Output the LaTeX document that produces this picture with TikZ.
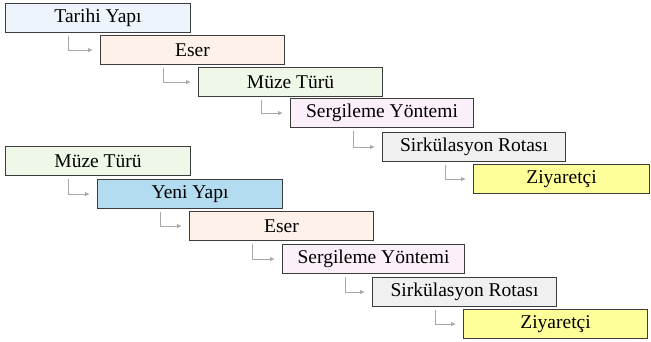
\documentclass[tikz,border=0pt]{standalone}
\usepackage{fontspec}
\setmainfont{Liberation Serif}
\usetikzlibrary{arrows.meta}
\definecolor{fHistoric}{HTML}{EEF4FC}
\definecolor{fWork}{HTML}{FDF1EA}
\definecolor{fType}{HTML}{EEF7E8}
\definecolor{fDisplay}{HTML}{FBEFFA}
\definecolor{fRoute}{HTML}{F0F0F0}
\definecolor{fVisitor}{HTML}{FFFF99}
\definecolor{fNew}{HTML}{B4DCF0}
\definecolor{edge}{HTML}{3C3C3C}
\definecolor{link}{HTML}{A8A8A8}
\tikzset{
  stage/.style={draw=edge, line width=1.1pt, anchor=north west, inner sep=0pt,
    minimum width=184pt, minimum height=29pt,
    font=\fontsize{19.5pt}{21pt}\selectfont},
  conn/.style={draw=link, line width=1pt, -{Latex[length=5pt,width=4.5pt]}}
}
\begin{document}
\begin{tikzpicture}[x=1pt,y=1pt]
\useasboundingbox (0,0) rectangle (651,-341);
% first sequence
\node[stage, fill=fHistoric, minimum width=185pt] (a1) at (5,-3) {Tarihi Yapı};
\node[stage, fill=fWork] (a2) at (100,-35) {Eser};
\node[stage, fill=fType] (a3) at (198,-67) {Müze Türü};
\node[stage, fill=fDisplay, minimum width=183pt] (a4) at (290,-98) {Sergileme Yöntemi};
\node[stage, fill=fRoute, minimum width=183pt] (a5) at (382,-132) {Sirkülasyon Rotası};
\node[stage, fill=fVisitor, minimum width=176pt] (a6) at (473,-164) {Ziyaretçi};
% second sequence
\node[stage, fill=fType, minimum width=185pt] (b1) at (5,-146) {Müze Türü};
\node[stage, fill=fNew, minimum width=185pt] (b2) at (97,-179) {Yeni Yapı};
\node[stage, fill=fWork] (b3) at (189,-211) {Eser};
\node[stage, fill=fDisplay, minimum width=182pt] (b4) at (282,-244) {Sergileme Yöntemi};
\node[stage, fill=fRoute] (b5) at (372,-277) {Sirkülasyon Rotası};
\node[stage, fill=fVisitor] (b6) at (463,-309) {Ziyaretçi};
% elbow links
\foreach \p/\q in {a1/a2,a2/a3,a3/a4,a4/a5,a5/a6,b1/b2,b2/b3,b3/b4,b4/b5,b5/b6}
  \draw[conn] ([xshift=63pt,yshift=-3pt]\p.south west) |- ([xshift=-7pt]\q.west);
\end{tikzpicture}
\end{document}
